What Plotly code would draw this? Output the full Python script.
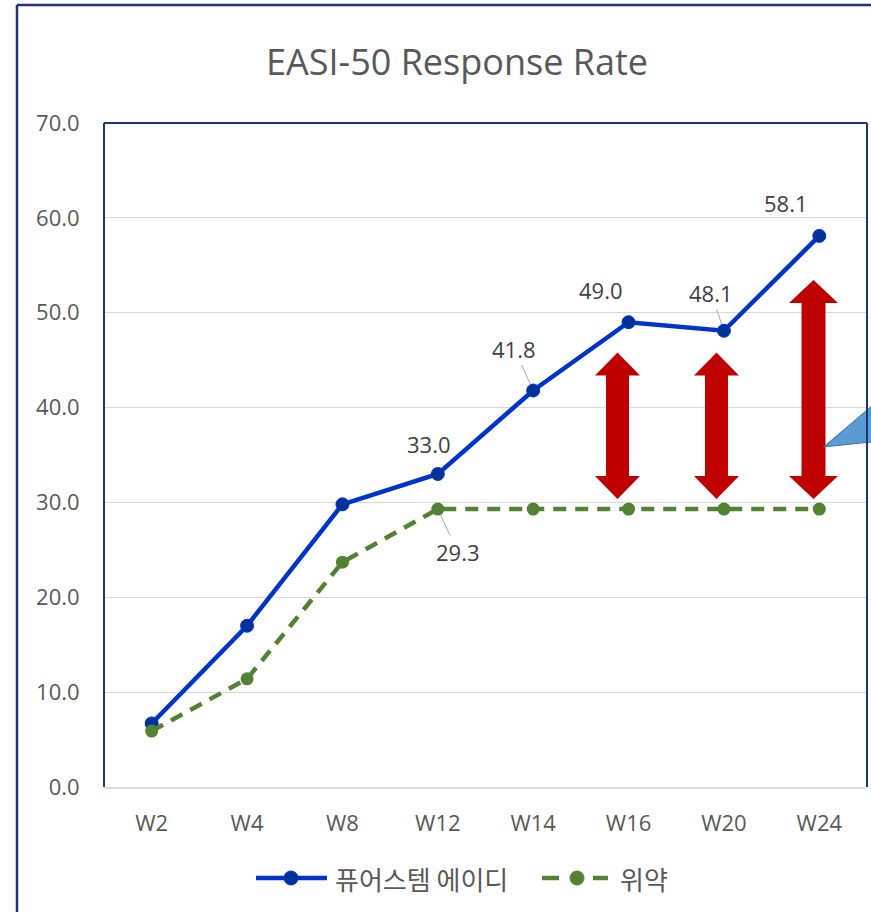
import plotly.graph_objects as go

weeks = ["W2", "W4", "W8", "W12", "W14", "W16", "W20", "W24"]
pure_vals = [6.7, 17.0, 29.8, 33.0, 41.8, 49.0, 48.1, 58.1]
placebo_vals = [5.9, 11.4, 23.7, 29.3, 29.3, 29.3, 29.3, 29.3]
y_ticks = [0, 10, 20, 30, 40, 50, 60, 70]
y_tick_text = ["0.0", "10.0", "20.0", "30.0", "40.0", "50.0", "60.0", "70.0"]
series_names = ["퓨어스템 에이디", "위약"]
title_text = "EASI-50 Response Rate"

W, H = 871, 912
L, R, T, B = 104, 867, 123, 787


def px(x):
    return (x - L) / (R - L)


def py(y):
    return (B - y) / (B - T)


NAVY = "#1F3470"
GRID = "#D9D9D9"
TXT = "#595959"
LBL = "#404040"
BLUE = "#0033CC"
BLUE_M = "#003399"
GREEN = "#548235"
LAT = "Open Sans, Noto Sans, sans-serif"
KR = "Noto Sans CJK KR, Open Sans, sans-serif"

fig = go.Figure()
fig.add_trace(go.Scatter(
    x=weeks, y=pure_vals, name=series_names[0], mode="lines+markers",
    line=dict(color=BLUE, width=4.5),
    marker=dict(size=13, color=BLUE_M, line=dict(color=BLUE, width=1)),
    showlegend=False,
))
fig.add_trace(go.Scatter(
    x=weeks, y=placebo_vals, name=series_names[1], mode="lines+markers",
    line=dict(color=GREEN, width=4.5, dash="13px,9px"),
    marker=dict(size=13, color=GREEN),
    showlegend=False,
))

# data labels: (series, index, dx, dy, leader)
label_specs = [
    (0, 3, -9, -30, False),
    (0, 4, -19, -42, True),
    (0, 5, -28, -32, False),
    (0, 6, -13, -38, True),
    (0, 7, -33, -33, False),
    (1, 3, 20, 43, True),
]
series_vals = [pure_vals, placebo_vals]
annotations = []
for s, i, dx, dy, leader in label_specs:
    v = series_vals[s][i]
    common = dict(x=weeks[i], y=v, text=f"{v:.1f}", xref="x", yref="y",
                  font=dict(family=LAT, size=22, color=LBL))
    if leader:
        annotations.append(dict(**common, showarrow=True, ax=dx, ay=dy,
                                arrowhead=0, arrowwidth=1, arrowcolor="#A6A6A6",
                                standoff=7))
    else:
        annotations.append(dict(**common, showarrow=False, xshift=dx, yshift=-dy))

shapes = []


def arrow_path(cx, top, bottom, hw, sw, hh):
    pts = [(cx, top), (cx + hw / 2, top + hh), (cx + sw / 2, top + hh),
           (cx + sw / 2, bottom - hh), (cx + hw / 2, bottom - hh), (cx, bottom),
           (cx - hw / 2, bottom - hh), (cx - sw / 2, bottom - hh),
           (cx - sw / 2, top + hh), (cx - hw / 2, top + hh)]
    return "M" + " L".join(f"{px(a):.5f},{py(b):.5f}" for a, b in pts) + " Z"


for cx, top, hw, sw in [(617.5, 352.5, 45, 23), (716.5, 352.5, 45, 23), (813.5, 280, 49, 24)]:
    shapes.append(dict(type="path", xref="paper", yref="paper",
                       path=arrow_path(cx, top, 499, hw, sw, 23),
                       fillcolor="#C00000", line=dict(width=0), layer="above"))

# callout pointer (light blue), cropped at right edge
tri = [(823.5, 447), (880, 399), (880, 441)]
shapes.append(dict(type="path", xref="paper", yref="paper",
                   path="M" + " L".join(f"{px(a):.5f},{py(b):.5f}" for a, b in tri) + " Z",
                   fillcolor="#5B9BD5", line=dict(color="#41719C", width=1), layer="above"))

# plot-area border (left, top, right) in navy
shapes += [
    dict(type="line", xref="paper", yref="paper", x0=0, x1=0, y0=0, y1=1,
         line=dict(color=NAVY, width=2)),
    dict(type="line", xref="paper", yref="paper", x0=0, x1=1, y0=1, y1=1,
         line=dict(color=NAVY, width=2)),
    dict(type="line", xref="paper", yref="paper", x0=1, x1=1, y0=0, y1=1,
         line=dict(color=NAVY, width=2)),
]
# outer chart border (left & top visible)
shapes += [
    dict(type="line", xref="paper", yref="paper", x0=px(17), x1=px(17),
         y0=py(930), y1=py(5), line=dict(color=NAVY, width=2.5)),
    dict(type="line", xref="paper", yref="paper", x0=px(17), x1=px(900),
         y0=py(5), y1=py(5), line=dict(color=NAVY, width=2.5)),
]


# legend drawn manually (long line symbols like the original)
def circle(cx, cy, r, color, lc):
    return dict(type="circle", xref="paper", yref="paper",
                x0=px(cx - r), x1=px(cx + r), y0=py(cy + r), y1=py(cy - r),
                fillcolor=color, line=dict(color=lc, width=1))


LY = 878
shapes += [
    dict(type="line", xref="paper", yref="paper", x0=px(256), x1=px(327),
         y0=py(LY), y1=py(LY), line=dict(color=BLUE, width=4.5)),
    circle(291, LY, 7, BLUE_M, BLUE),
    dict(type="line", xref="paper", yref="paper", x0=px(542), x1=px(559),
         y0=py(LY), y1=py(LY), line=dict(color=GREEN, width=4.5)),
    dict(type="line", xref="paper", yref="paper", x0=px(593), x1=px(608),
         y0=py(LY), y1=py(LY), line=dict(color=GREEN, width=4.5)),
    circle(577, LY, 7, GREEN, GREEN),
]
for name, lx in zip(series_names, [333, 618]):
    annotations.append(dict(text=name, xref="paper", yref="paper", x=px(lx), y=py(LY),
                            xanchor="left", yanchor="middle", showarrow=False,
                            font=dict(family=KR, size=26, color=TXT)))

fig.update_layout(
    width=W, height=H,
    margin=dict(l=L, r=W - R, t=T, b=H - B, pad=0),
    paper_bgcolor="white", plot_bgcolor="white",
    title=dict(text=title_text, x=457 / W, xanchor="center",
               y=1 - 62 / H, yanchor="middle", yref="container",
               font=dict(family=LAT, size=36, color=TXT)),
    xaxis=dict(type="category", range=[-0.5, 7.5], showgrid=False,
               showline=True, linecolor=GRID, linewidth=2,
               ticks="outside", ticklen=16, tickcolor="rgba(0,0,0,0)",
               tickfont=dict(family=LAT, size=22, color=TXT), zeroline=False),
    yaxis=dict(range=[0, 70], tickvals=y_ticks, ticktext=y_tick_text,
               showgrid=True, gridcolor=GRID, gridwidth=1, zeroline=False,
               showline=False, ticks="outside", ticklen=19,
               tickcolor="rgba(0,0,0,0)",
               tickfont=dict(family=LAT, size=22, color=TXT)),
    showlegend=False,
    annotations=annotations,
    shapes=shapes,
)

fig.write_html("out.html", config={"displayModeBar": False},
               post_script="document.body.style.margin='0';document.body.style.overflow='hidden';")
